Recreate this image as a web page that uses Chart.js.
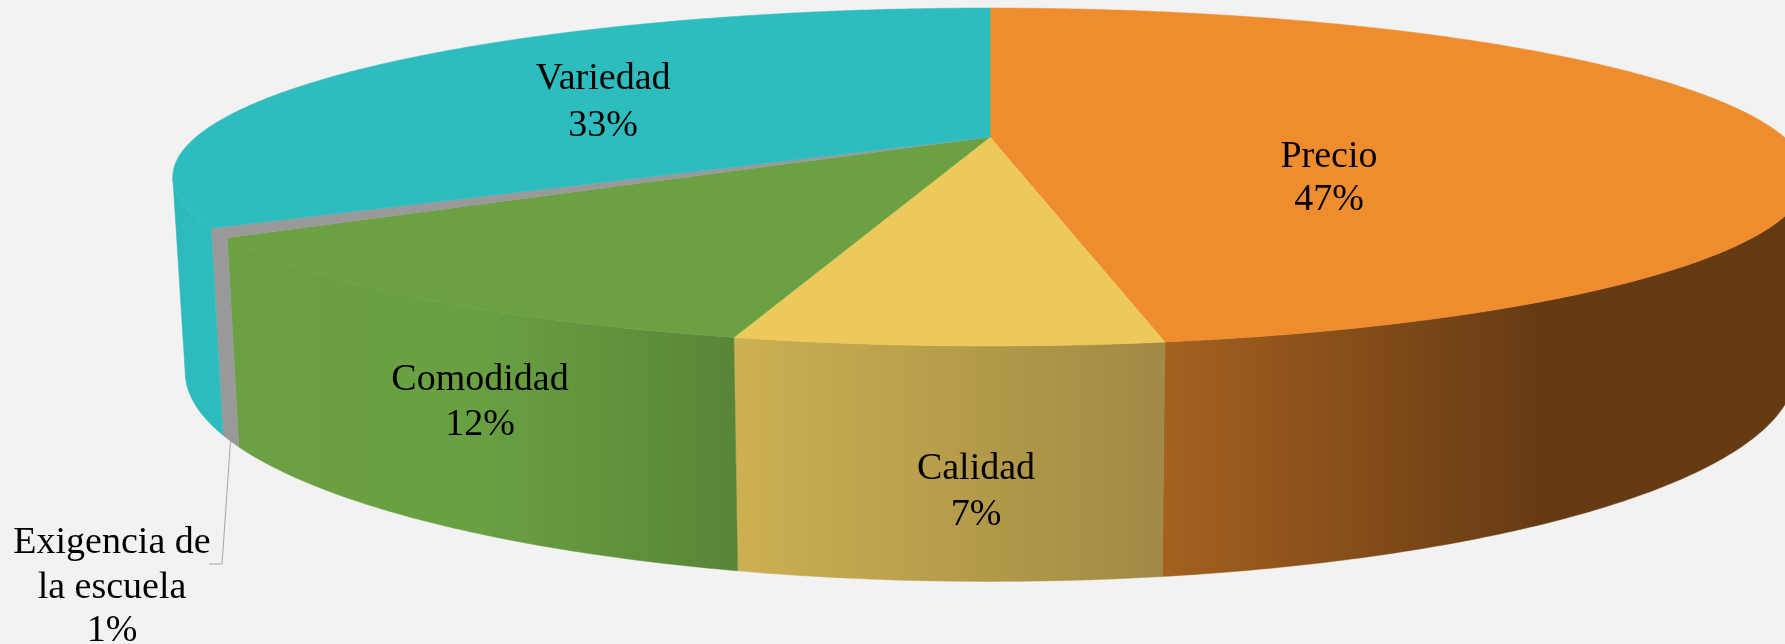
<!DOCTYPE html>
<html lang="es">
<head>
<meta charset="utf-8">
<title>Factores de compra</title>
<script src="https://cdn.jsdelivr.net/npm/chart.js@4"></script>
<style>
  html, body { margin: 0; padding: 0; background: #f2f2f2; overflow: hidden; }
  canvas { display: block; }
</style>
</head>
<body>
<canvas id="pie3d" width="1785" height="644"></canvas>
<script>
const categories = ["Precio", "Calidad", "Comodidad", "Exigencia de la escuela", "Variedad"];
// printed labels are rounded, the decimals are read from the slice edges
const shares = [47.3, 6.7, 11.75, 0.85, 33.4];

const topColors = ["#ee8c2e", "#edc95c", "#6ba043", "#999999", "#2dbdbe"];
// wall shading per slice: [x, colour] stops across the page
const wallStops = [
  [[1162, "#a5611f"], [1537, "#663b14"], [1785, "#663b14"]],
  [[733, "#cdb052"], [1162, "#a08a44"]],
  [[230, "#6ba043"], [480, "#69a042"], [733, "#598537"]],
  [[200, "#999999"], [250, "#999999"]],
  [[170, "#2db9bb"], [230, "#2ebdbe"]]
];

// label lines and where they sit (centre x, baseline y)
const labelLines = [
  [["Precio", 1329, 167], ["47%", 1329, 210]],
  [["Calidad", 976, 479], ["7%", 976, 525]],
  [["Comodidad", 480, 390], ["12%", 480, 435]],
  [["Exigencia de", 112, 553], ["la escuela", 112, 598], ["1%", 112, 641]],
  [["Variedad", 603, 89], ["33%", 603, 136]]
];

// top and bottom rims of the disc, seen in perspective
const topRim = { cx: 990, cy: 137, rx: 794, ry: 159.5, k: 0.2367 };
const bottomRim = { cx: 990, cy: 322, rx: 782, ry: 198, k: 0.2367 };

// only this part of the wall faces the viewer
const frontFrom = Math.asin(topRim.k);
const frontTo = Math.PI - frontFrom;

function project(rim, angle) {
  const x = Math.cos(angle);
  const y = Math.sin(angle);
  const w = 1 / (1 - rim.k * y);
  return { x: rim.cx + rim.rx * x * w, y: rim.cy + rim.ry * y * w };
}

function traceRim(ctx, rim, from, to) {
  const steps = Math.max(2, Math.ceil(Math.abs(to - from) / 0.01));
  for (let i = 0; i <= steps; i++) {
    const p = project(rim, from + (to - from) * i / steps);
    ctx.lineTo(p.x, p.y);
  }
}

function wallGradient(ctx, stops) {
  const x0 = stops[0][0];
  const x1 = stops[stops.length - 1][0];
  const grad = ctx.createLinearGradient(x0, 0, x1, 0);
  stops.forEach(([x, color]) => grad.addColorStop((x - x0) / (x1 - x0), color));
  return grad;
}

const projectedPie = {
  id: "projectedPie",
  beforeDatasetDraw(chart) {
    const ctx = chart.ctx;
    const arcs = chart.getDatasetMeta(0).data;
    ctx.save();

    arcs.forEach((arc, i) => {
      const { startAngle, endAngle } = arc.getProps(["startAngle", "endAngle"]);
      const from = Math.max(startAngle, frontFrom);
      const to = Math.min(endAngle, frontTo);
      if (to <= from) return;
      const grad = wallGradient(ctx, wallStops[i]);
      ctx.beginPath();
      traceRim(ctx, topRim, from, to);
      traceRim(ctx, bottomRim, to, from);
      ctx.closePath();
      ctx.fillStyle = grad;
      ctx.strokeStyle = grad;
      ctx.lineWidth = 0.5;
      ctx.fill();
      ctx.stroke();
    });

    arcs.forEach((arc, i) => {
      const { startAngle, endAngle } = arc.getProps(["startAngle", "endAngle"]);
      ctx.beginPath();
      ctx.moveTo(topRim.cx, topRim.cy);
      traceRim(ctx, topRim, startAngle, endAngle);
      ctx.closePath();
      ctx.fillStyle = topColors[i];
      ctx.strokeStyle = topColors[i];
      ctx.lineWidth = 0.5;
      ctx.fill();
      ctx.stroke();
    });

    ctx.restore();
    return false;
  },
  afterDatasetsDraw(chart) {
    const ctx = chart.ctx;
    const small = chart.getDatasetMeta(0).data[3];
    const { startAngle, endAngle } = small.getProps(["startAngle", "endAngle"]);
    const foot = project(bottomRim, (startAngle + endAngle) / 2);

    ctx.save();
    ctx.beginPath();
    ctx.moveTo(foot.x, foot.y);
    ctx.lineTo(222, 564);
    ctx.lineTo(209, 564);
    ctx.strokeStyle = "#a6a6a6";
    ctx.lineWidth = 1;
    ctx.stroke();

    ctx.fillStyle = "#000000";
    ctx.font = "38px 'Liberation Serif'";
    ctx.textAlign = "center";
    ctx.textBaseline = "alphabetic";
    labelLines.forEach(lines => {
      lines.forEach(([text, x, y]) => ctx.fillText(text, x, y));
    });
    ctx.restore();
  }
};

new Chart(document.getElementById("pie3d"), {
  type: "pie",
  data: {
    labels: categories,
    datasets: [{ data: shares, backgroundColor: topColors, borderWidth: 0 }]
  },
  options: {
    responsive: false,
    animation: false,
    plugins: { legend: { display: false }, tooltip: { enabled: false } }
  },
  plugins: [projectedPie]
});
</script>
</body>
</html>
